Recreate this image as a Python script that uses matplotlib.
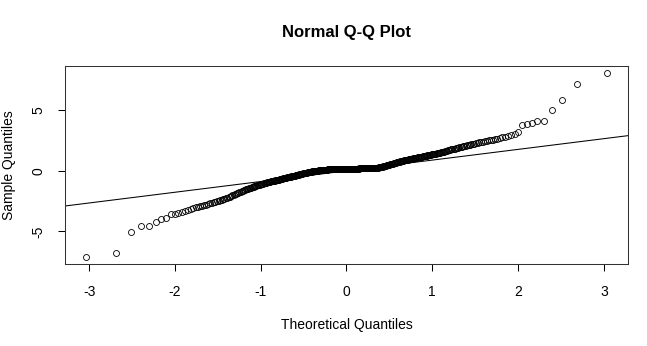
import numpy as np
import matplotlib
matplotlib.use("Agg")
import matplotlib.pyplot as plt
from statistics import NormalDist

# =========================
# DATA (sorted sample)
# =========================

sample_low = [
    -7.08, -6.78, -5.07, -4.52, -4.52, -4.21, -3.99, -3.85, -3.60, -3.52,
    -3.45, -3.38, -3.30, -3.22, -3.14, -3.07, -3.02, -2.97, -2.92,
    -2.88, -2.83, -2.78, -2.73, -2.68, -2.64, -2.60, -2.56, -2.52,
    -2.48, -2.44, -2.39, -2.35, -2.31, -2.27,
    -2.22, -2.17, -2.12, -2.07, -2.02, -1.97, -1.93,
    -1.88, -1.84, -1.80, -1.76, -1.72, -1.68, -1.64,
    -1.60, -1.57, -1.54, -1.51, -1.48, -1.45, -1.42, -1.39, -1.36,
    -1.33, -1.31, -1.28, -1.26, -1.23, -1.21, -1.18, -1.16, -1.13, -1.11,
    -1.09, -1.07, -1.05, -1.03, -1.01, -0.99, -0.97, -0.95, -0.94, -0.92,
    -0.91, -0.89, -0.88, -0.86, -0.85, -0.83, -0.82, -0.80, -0.79, -0.77, -0.76, -0.74,
    -0.73, -0.72, -0.70, -0.69, -0.67, -0.66, -0.64, -0.63, -0.62, -0.60, -0.59, -0.57, -0.56,
    -0.55, -0.54, -0.52, -0.51, -0.50, -0.49, -0.48, -0.46, -0.45, -0.44, -0.43, -0.41, -0.40,
    -0.39, -0.38, -0.36, -0.35, -0.34, -0.32, -0.31, -0.30, -0.28, -0.27, -0.26, -0.24, -0.23, -0.22, -0.20,
    -0.19, -0.18, -0.17, -0.16, -0.15, -0.14, -0.13, -0.12, -0.11, -0.10, -0.09, -0.08, -0.07, -0.06, -0.05,
    -0.04, -0.04, -0.03, -0.02, -0.02, -0.01, 0.00, 0.00, 0.01, 0.02, 0.02, 0.03, 0.04, 0.04, 0.05,
    0.05, 0.06, 0.06, 0.07, 0.07, 0.08, 0.08, 0.08, 0.09, 0.09, 0.10, 0.10, 0.10, 0.11, 0.11, 0.12, 0.12,
    0.12, 0.13, 0.13, 0.13, 0.13, 0.14, 0.14, 0.14, 0.14, 0.15, 0.15, 0.15, 0.15, 0.15, 0.16, 0.16,
    0.16, 0.16, 0.16, 0.16, 0.16, 0.16, 0.17, 0.17, 0.17, 0.17, 0.17, 0.17, 0.18, 0.18, 0.18, 0.18, 0.18,
]

sample_high = [
    0.18, 0.18, 0.18, 0.18, 0.18, 0.18, 0.18, 0.18, 0.19, 0.19, 0.19, 0.19, 0.19, 0.19, 0.19, 0.19, 0.19,
    0.19, 0.19, 0.19, 0.19, 0.19, 0.19, 0.19, 0.20, 0.20, 0.20, 0.20, 0.20, 0.20, 0.20, 0.20, 0.20,
    0.20, 0.20, 0.20, 0.20, 0.20, 0.21, 0.21, 0.21, 0.21, 0.21, 0.21, 0.22, 0.22, 0.22, 0.22, 0.22, 0.22,
    0.22, 0.23, 0.23, 0.24, 0.24, 0.25, 0.25, 0.26, 0.26, 0.27, 0.27, 0.28, 0.29, 0.29, 0.30,
    0.31, 0.33, 0.34, 0.35, 0.37, 0.38, 0.39, 0.41, 0.42, 0.43, 0.45, 0.46, 0.47, 0.49, 0.50,
    0.51, 0.53, 0.54, 0.56, 0.57, 0.59, 0.60, 0.62, 0.63, 0.65, 0.66, 0.68, 0.69, 0.71, 0.72,
    0.73, 0.75, 0.76, 0.78, 0.79, 0.80, 0.82, 0.83, 0.85, 0.86, 0.87, 0.89, 0.90,
    0.91, 0.92, 0.93, 0.94, 0.95, 0.97, 0.98, 0.99, 1.00, 1.01, 1.02, 1.04, 1.05,
    1.06, 1.07, 1.09, 1.10, 1.11, 1.12, 1.14, 1.15, 1.16, 1.17, 1.19, 1.20,
    1.21, 1.23, 1.24, 1.26, 1.27, 1.29, 1.30, 1.32, 1.33, 1.35,
    1.36, 1.38, 1.39, 1.41, 1.42, 1.44, 1.45, 1.47, 1.48, 1.50,
    1.52, 1.54, 1.57, 1.59, 1.61, 1.63, 1.66, 1.68, 1.70,
    1.73, 1.76, 1.79, 1.81, 1.84, 1.87, 1.90,
    1.92, 1.95, 1.97, 2.00, 2.03, 2.05, 2.08,
    2.11, 2.14, 2.17, 2.19, 2.22, 2.25,
    2.28, 2.31, 2.34, 2.37, 2.40,
    2.44, 2.48, 2.51, 2.55,
    2.58, 2.62, 2.66, 2.70,
    2.76, 2.82, 2.88,
    2.95, 3.02,
    3.17, 3.77, 3.88, 3.94, 4.10, 4.10, 5.01, 5.84, 7.16, 8.04,
]

line_intercept = 0.0
line_slope = 0.884

x_ticks = [-3, -2, -1, 0, 1, 2, 3]
y_ticks = [-5, 0, 5]

title = "Normal Q-Q Plot"
x_label = "Theoretical Quantiles"
y_label = "Sample Quantiles"

# =========================
# THEORETICAL QUANTILES (R ppoints)
# =========================

sample = np.array(sample_low + sample_high)
n = len(sample)
a = 3 / 8 if n <= 10 else 0.5
probs = (np.arange(1, n + 1) - a) / (n + 1 - 2 * a)
theo = np.array([NormalDist().inv_cdf(p) for p in probs])

# =========================
# PLOT
# =========================

plt.rcParams["font.family"] = ["Liberation Sans", "DejaVu Sans"]

W, H = 647, 346
fig = plt.figure(figsize=(W / 100, H / 100), dpi=100)
ax = fig.add_axes([65 / W, 1 - 264 / H, (628 - 65) / W, (264 - 66) / H])

ax.plot(theo, sample, "o", mfc="none", mec="black", ms=4.3, mew=0.6)
ax.axline((0, line_intercept), slope=line_slope, color="black", lw=0.75)

# R style 4% axis extension
xr = theo.max() - theo.min()
yr = sample.max() - sample.min()
ax.set_xlim(theo.min() - 0.04 * xr, theo.max() + 0.04 * xr)
ax.set_ylim(sample.min() - 0.04 * yr, sample.max() + 0.04 * yr)

ax.set_xticks(x_ticks)
ax.set_xticklabels([str(t) for t in x_ticks], fontsize=10)
ax.set_yticks(y_ticks)
ax.set_yticklabels([str(t) for t in y_ticks], fontsize=10, rotation=90, va="center")

ax.tick_params(axis="x", direction="out", length=5, width=0.75, pad=10)
ax.tick_params(axis="y", direction="out", length=5, width=0.75, pad=9)

for s in ax.spines.values():
    s.set_linewidth(0.75)
    s.set_color("#333333")

fig.text(346.5 / W, 1 - 33 / H, title, ha="center", va="center",
         fontsize=12, fontweight="bold")
fig.text(346.5 / W, 1 - 325 / H, x_label, ha="center", va="center", fontsize=10)
fig.text(9 / W, 1 - 165 / H, y_label, ha="center", va="center",
         fontsize=10, rotation=90)

fig.savefig("out.png", dpi=100)
